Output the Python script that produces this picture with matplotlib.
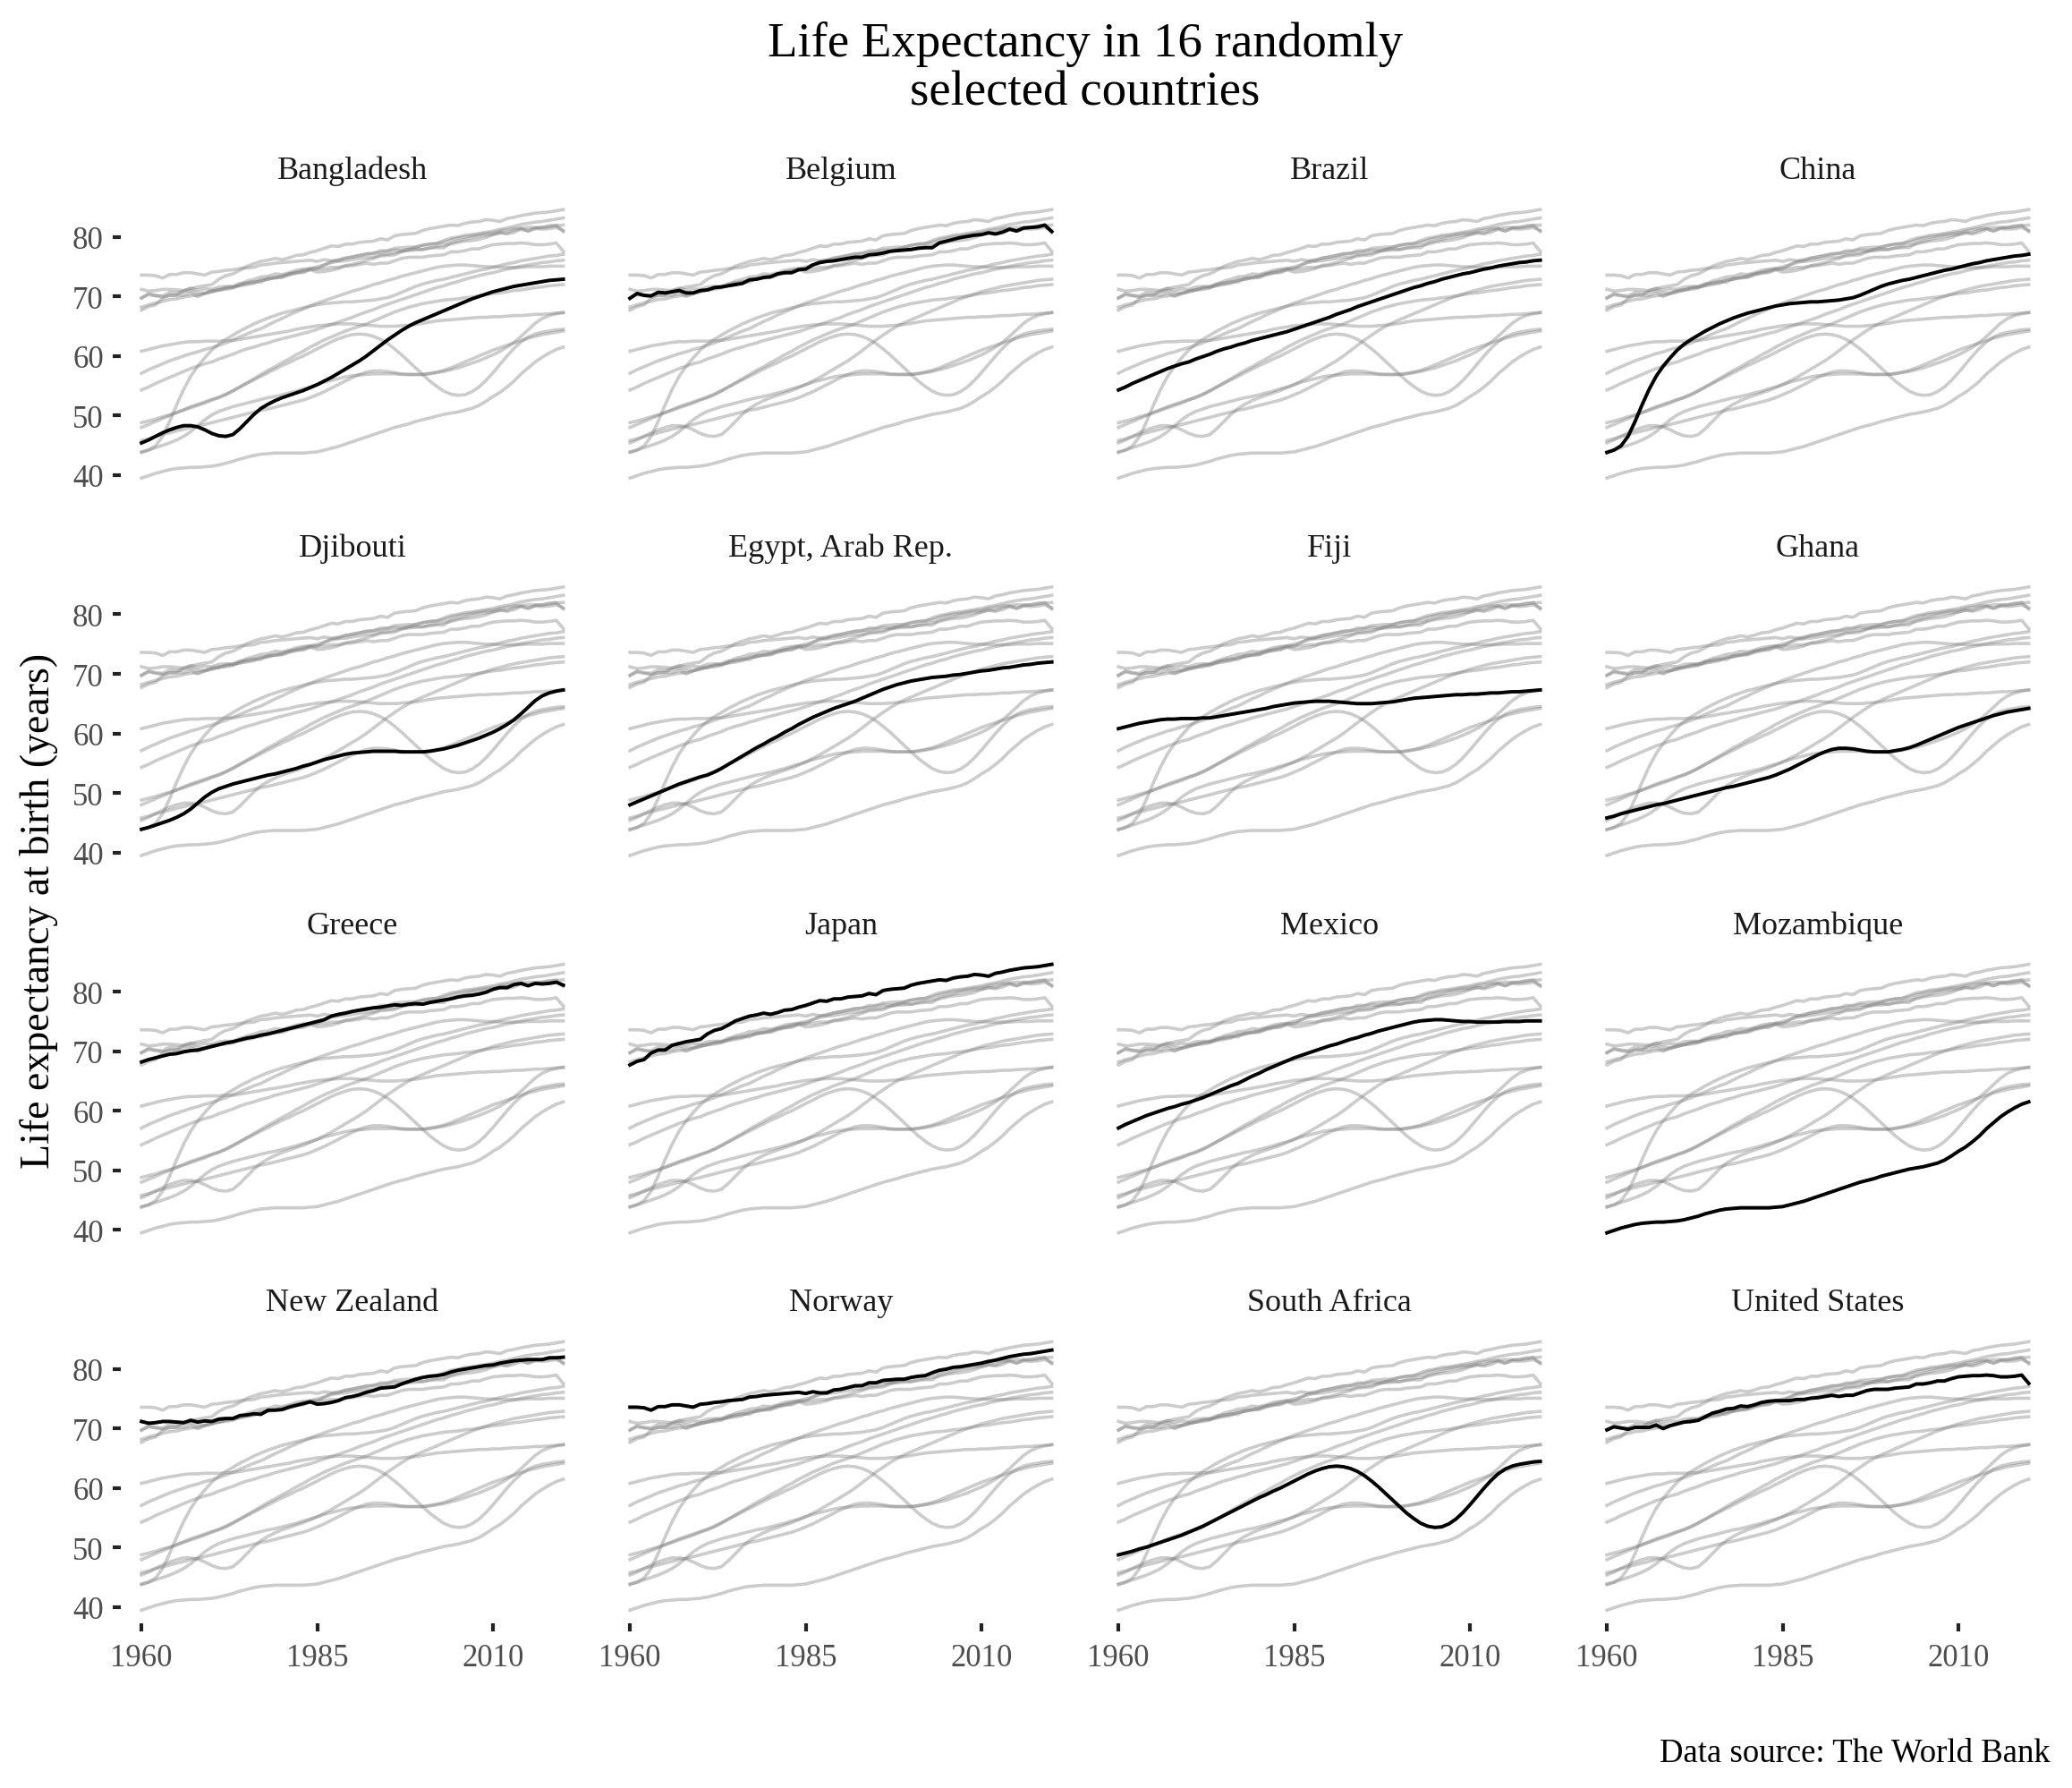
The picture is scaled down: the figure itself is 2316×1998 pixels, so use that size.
import matplotlib
matplotlib.use("Agg")
import matplotlib.pyplot as plt

plt.rcParams['font.family'] = ['Liberation Serif', 'DejaVu Serif']

years = list(range(1960, 2021))

countries = ["Bangladesh", "Belgium", "Brazil", "China",
             "Djibouti", "Egypt, Arab Rep.", "Fiji", "Ghana",
             "Greece", "Japan", "Mexico", "Mozambique",
             "New Zealand", "Norway", "South Africa", "United States"]

bangladesh = [45.4, 45.9, 46.5, 47.1, 47.6, 48.0, 48.3, 48.3, 48.1, 47.6,
              47.0, 46.6, 46.5, 46.8, 47.8, 49.0, 50.2, 51.2, 51.9, 52.5,
              53.0, 53.4, 53.8, 54.2, 54.7, 55.2, 55.8, 56.4, 57.1, 57.8,
              58.5, 59.2, 60.0, 60.9, 61.8, 62.7, 63.5, 64.3, 65.0, 65.6,
              66.1, 66.6, 67.1, 67.6, 68.1, 68.6, 69.1, 69.6, 70.0, 70.4,
              70.8, 71.1, 71.4, 71.7, 71.9, 72.1, 72.3, 72.5, 72.7, 72.8,
              72.9]
belgium = [69.7, 70.5, 70.2, 70.1, 70.7, 70.6, 70.8, 71.0, 70.6, 70.6,
           71.0, 71.1, 71.5, 71.6, 71.8, 72.0, 72.2, 72.8, 72.9, 73.2,
           73.3, 73.8, 74.0, 74.0, 74.5, 74.6, 75.3, 75.7, 75.9, 76.0,
           76.2, 76.4, 76.6, 76.6, 77.0, 77.1, 77.3, 77.6, 77.7, 77.8,
           77.9, 78.1, 78.2, 78.2, 79.0, 79.3, 79.6, 79.9, 80.1, 80.3,
           80.4, 80.7, 80.5, 80.8, 81.3, 81.0, 81.5, 81.6, 81.7, 82.0,
           80.9]
brazil = [54.3, 54.8, 55.4, 55.9, 56.4, 56.9, 57.4, 57.9, 58.3, 58.7,
          59.0, 59.5, 59.9, 60.3, 60.8, 61.2, 61.5, 61.9, 62.2, 62.6,
          62.9, 63.2, 63.5, 63.8, 64.1, 64.5, 64.9, 65.3, 65.7, 66.1,
          66.5, 67.0, 67.4, 67.8, 68.3, 68.7, 69.1, 69.5, 69.9, 70.3,
          70.7, 71.1, 71.5, 71.8, 72.2, 72.5, 72.9, 73.2, 73.5, 73.8,
          74.0, 74.3, 74.6, 74.8, 75.1, 75.3, 75.5, 75.7, 75.8, 76.0,
          76.1]
china = [43.8, 44.2, 44.9, 46.5, 49.0, 51.8, 54.4, 56.6, 58.3, 59.7,
         61.0, 62.0, 62.8, 63.5, 64.2, 64.8, 65.4, 65.9, 66.4, 66.8,
         67.2, 67.5, 67.8, 68.1, 68.4, 68.6, 68.8, 68.9, 69.0, 69.1,
         69.1, 69.2, 69.3, 69.4, 69.6, 69.8, 70.2, 70.7, 71.2, 71.7,
         72.1, 72.4, 72.7, 72.9, 73.2, 73.5, 73.8, 74.1, 74.4, 74.6,
         74.9, 75.2, 75.5, 75.7, 76.0, 76.2, 76.4, 76.6, 76.8, 76.9,
         77.1]
djibouti = [43.9, 44.2, 44.6, 45.0, 45.4, 45.9, 46.5, 47.3, 48.3, 49.3,
            50.1, 50.7, 51.1, 51.5, 51.8, 52.1, 52.4, 52.7, 53.0, 53.2,
            53.5, 53.8, 54.1, 54.5, 54.8, 55.2, 55.6, 55.9, 56.2, 56.5,
            56.7, 56.8, 56.9, 57.0, 57.0, 57.0, 57.0, 56.9, 56.9, 56.9,
            56.9, 57.0, 57.2, 57.4, 57.7, 58.0, 58.4, 58.8, 59.2, 59.7,
            60.2, 60.8, 61.5, 62.3, 63.3, 64.4, 65.5, 66.3, 66.8, 67.1,
            67.3]
egypt = [48.0, 48.5, 49.0, 49.5, 50.0, 50.5, 51.0, 51.5, 51.9, 52.3,
         52.7, 53.0, 53.5, 54.1, 54.8, 55.5, 56.2, 56.9, 57.6, 58.2,
         58.9, 59.5, 60.2, 60.8, 61.5, 62.1, 62.7, 63.2, 63.7, 64.2,
         64.6, 65.0, 65.4, 65.9, 66.4, 66.9, 67.4, 67.8, 68.2, 68.5,
         68.8, 69.0, 69.2, 69.4, 69.5, 69.6, 69.8, 69.9, 70.1, 70.3,
         70.5, 70.6, 70.8, 71.0, 71.1, 71.3, 71.5, 71.6, 71.8, 71.9,
         72.0]
fiji = [60.8, 61.1, 61.4, 61.7, 61.9, 62.1, 62.3, 62.4, 62.4, 62.5,
        62.5, 62.5, 62.6, 62.6, 62.8, 63.0, 63.2, 63.4, 63.6, 63.8,
        64.0, 64.2, 64.5, 64.7, 64.9, 65.1, 65.2, 65.3, 65.4, 65.4,
        65.4, 65.3, 65.2, 65.1, 65.0, 65.0, 65.0, 65.1, 65.2, 65.3,
        65.5, 65.7, 65.9, 66.0, 66.1, 66.2, 66.3, 66.4, 66.5, 66.5,
        66.6, 66.6, 66.7, 66.8, 66.8, 66.9, 67.0, 67.0, 67.1, 67.2,
        67.3]
ghana = [45.8, 46.1, 46.5, 46.8, 47.1, 47.4, 47.7, 48.0, 48.2, 48.5,
         48.8, 49.1, 49.4, 49.7, 50.0, 50.3, 50.6, 50.9, 51.1, 51.4,
         51.7, 52.0, 52.3, 52.6, 53.0, 53.5, 54.0, 54.6, 55.2, 55.8,
         56.4, 56.9, 57.3, 57.5, 57.5, 57.4, 57.2, 57.0, 56.9, 56.9,
         56.9, 57.1, 57.3, 57.6, 58.0, 58.5, 59.0, 59.5, 60.0, 60.5,
         61.0, 61.4, 61.8, 62.2, 62.6, 63.0, 63.3, 63.6, 63.8, 64.0,
         64.2]
greece = [68.2, 68.6, 68.9, 69.2, 69.5, 69.6, 69.9, 70.1, 70.2, 70.5,
          70.8, 71.1, 71.4, 71.6, 71.9, 72.2, 72.4, 72.7, 72.9, 73.2,
          73.5, 73.8, 74.1, 74.4, 74.7, 75.0, 75.3, 75.9, 76.2, 76.4,
          76.7, 76.9, 77.1, 77.3, 77.4, 77.6, 77.8, 77.7, 77.9, 78.0,
          77.9, 78.2, 78.4, 78.6, 78.8, 79.1, 79.3, 79.4, 79.6, 79.9,
          80.4, 80.7, 80.7, 81.2, 81.4, 81.0, 81.4, 81.3, 81.4, 81.6,
          81.1]
japan = [67.7, 68.3, 68.6, 69.7, 70.2, 70.2, 71.0, 71.3, 71.6, 71.8,
         72.0, 72.9, 73.5, 73.8, 74.4, 75.1, 75.5, 75.9, 76.1, 76.4,
         76.2, 76.5, 76.9, 77.0, 77.4, 77.7, 78.1, 78.5, 78.4, 78.8,
         78.8, 79.1, 79.2, 79.3, 79.7, 79.5, 80.2, 80.4, 80.5, 80.6,
         81.1, 81.4, 81.6, 81.8, 82.0, 81.9, 82.3, 82.5, 82.6, 82.9,
         82.8, 82.6, 83.1, 83.3, 83.6, 83.8, 84.0, 84.1, 84.2, 84.4,
         84.6]
mexico = [57.1, 57.7, 58.2, 58.7, 59.2, 59.6, 60.0, 60.4, 60.7, 61.1,
          61.4, 61.8, 62.2, 62.7, 63.2, 63.7, 64.2, 64.6, 65.2, 65.8,
          66.3, 66.9, 67.4, 67.9, 68.4, 68.9, 69.3, 69.7, 70.1, 70.5,
          70.9, 71.2, 71.6, 72.0, 72.3, 72.7, 73.0, 73.4, 73.7, 74.0,
          74.3, 74.6, 74.9, 75.1, 75.2, 75.3, 75.3, 75.2, 75.1, 75.0,
          75.0, 74.9, 74.9, 74.9, 74.9, 75.0, 75.0, 75.0, 75.1, 75.1,
          75.1]
mozambique = [39.5, 39.9, 40.3, 40.6, 40.9, 41.1, 41.2, 41.3, 41.3, 41.4,
              41.5, 41.7, 42.0, 42.3, 42.7, 43.0, 43.3, 43.5, 43.6, 43.7,
              43.7, 43.7, 43.7, 43.7, 43.8, 43.9, 44.2, 44.5, 44.8, 45.2,
              45.6, 46.0, 46.4, 46.8, 47.2, 47.6, 48.0, 48.3, 48.6, 49.0,
              49.3, 49.6, 49.9, 50.2, 50.4, 50.6, 50.9, 51.2, 51.7, 52.4,
              53.2, 53.9, 54.8, 55.8, 57.0, 58.0, 59.0, 59.8, 60.5, 61.1,
              61.5]
new_zealand = [71.2, 70.9, 71.0, 71.2, 71.2, 71.1, 71.0, 71.4, 71.1, 71.3,
               71.2, 71.6, 71.7, 71.7, 72.2, 72.3, 72.5, 72.4, 73.1, 73.1,
               73.2, 73.6, 73.9, 74.2, 74.5, 74.1, 74.2, 74.4, 74.7, 75.2,
               75.4, 75.7, 76.1, 76.4, 76.8, 76.9, 77.0, 77.5, 77.9, 78.3,
               78.6, 78.8, 78.9, 79.1, 79.5, 79.8, 80.0, 80.2, 80.4, 80.6,
               80.7, 81.0, 81.2, 81.4, 81.5, 81.6, 81.6, 81.6, 81.9, 81.9,
               82.0]
norway = [73.6, 73.6, 73.5, 73.1, 73.7, 73.7, 74.0, 74.0, 73.8, 73.6,
          74.1, 74.2, 74.4, 74.5, 74.7, 74.8, 74.9, 75.3, 75.4, 75.6,
          75.7, 75.8, 75.9, 76.0, 76.1, 75.9, 76.2, 76.0, 76.0, 76.5,
          76.6, 76.9, 77.2, 77.2, 77.7, 77.7, 78.1, 78.2, 78.3, 78.3,
          78.6, 78.8, 78.9, 79.4, 79.8, 80.0, 80.3, 80.4, 80.6, 80.8,
          81.0, 81.3, 81.5, 81.8, 82.1, 82.3, 82.5, 82.6, 82.8, 83.0,
          83.2]
south_africa = [48.8, 49.1, 49.4, 49.8, 50.1, 50.5, 50.9, 51.3, 51.7, 52.1,
                52.6, 53.1, 53.6, 54.2, 54.8, 55.4, 56.0, 56.6, 57.2, 57.8,
                58.4, 58.9, 59.5, 60.0, 60.6, 61.2, 61.8, 62.4, 62.9, 63.3,
                63.6, 63.7, 63.6, 63.3, 62.8, 62.1, 61.2, 60.2, 59.1, 58.0,
                56.9, 55.8, 54.9, 54.1, 53.6, 53.4, 53.5, 54.0, 54.8, 55.9,
                57.2, 58.6, 60.0, 61.3, 62.4, 63.2, 63.7, 64.0, 64.2, 64.4,
                64.5]
united_states = [69.8, 70.3, 70.1, 69.9, 70.2, 70.2, 70.2, 70.6, 70.0, 70.5,
                 70.8, 71.1, 71.2, 71.4, 72.0, 72.6, 72.9, 73.3, 73.4, 73.8,
                 73.7, 74.0, 74.4, 74.6, 74.7, 74.7, 74.7, 74.9, 74.9, 75.1,
                 75.2, 75.4, 75.6, 75.4, 75.6, 75.6, 76.0, 76.4, 76.6, 76.6,
                 76.6, 76.8, 76.9, 77.0, 77.5, 77.5, 77.7, 78.0, 78.0, 78.4,
                 78.7, 78.8, 78.9, 78.9, 79.0, 78.9, 78.7, 78.7, 78.8, 79.0,
                 77.6]

series = dict(zip(countries, [bangladesh, belgium, brazil, china,
                              djibouti, egypt, fiji, ghana,
                              greece, japan, mexico, mozambique,
                              new_zealand, norway, south_africa, united_states]))

x_ticks = [1960, 1985, 2010]
y_ticks = [40, 50, 60, 70, 80]

W, H = 2316, 1999
fig = plt.figure(figsize=(W / 100, H / 100), dpi=100)
fig.patch.set_facecolor('white')

left0, dx, pw = 134.6, 546.0, 518.6
top0, dy, ph = 220.2, 421.7, 330.0

all_vals = [v for s in series.values() for v in s]
ymin, ymax = min(all_vals), max(all_vals)
yr0, yr1 = min(years), max(years)
xpad = 0.05 * (yr1 - yr0)
ypad = 0.05 * (ymax - ymin)

tick_col = '#222222'
lab_col = '#4d4d4d'

for i, name in enumerate(countries):
    r, c = divmod(i, 4)
    ax = fig.add_axes([(left0 + c * dx) / W, 1 - (top0 + r * dy + ph) / H,
                       pw / W, ph / H])
    for other in countries:
        ax.plot(years, series[other], color='#808080', alpha=0.4,
                lw=2.6, zorder=1)
    ax.plot(years, series[name], color='black', lw=2.8, zorder=3)
    ax.set_xlim(yr0 - xpad, yr1 + xpad)
    ax.set_ylim(ymin - ypad, ymax + ypad)
    ax.set_xticks(x_ticks)
    ax.set_yticks(y_ticks)
    for sp in ax.spines.values():
        sp.set_visible(False)
    ax.tick_params(axis='both', length=6.5, width=3.0, color=tick_col,
                   labelcolor=lab_col, labelsize=25)
    ax.tick_params(axis='y', pad=7)
    ax.tick_params(axis='x', pad=9)
    if c != 0:
        ax.tick_params(axis='y', left=False, labelleft=False)
    if r != 3:
        ax.tick_params(axis='x', bottom=False, labelbottom=False)
    ax.text(0.5, 1 + 20 / ph, name, transform=ax.transAxes, ha='center',
            va='baseline', fontsize=26, color='#1a1a1a')

panel_left = left0
panel_right = left0 + 3 * dx + pw
cx = (panel_left + panel_right) / 2 / W
fig.text(cx, 1 - 63 / H, "Life Expectancy in 16 randomly", ha='center',
         va='baseline', fontsize=39.5, color='black')
fig.text(cx, 1 - 118 / H, "selected countries", ha='center',
         va='baseline', fontsize=39.5, color='black')
fig.text(44 / W, 1 - (top0 + (3 * dy + ph) / 2) / H,
         "Life expectancy at birth (years)", rotation=90, ha='center',
         va='center', fontsize=33, color='black')
fig.text(panel_right / W, 1 - 1969 / H, "Data source: The World Bank",
         ha='right', va='baseline', fontsize=26.5, color='black')

fig.savefig("out.png", dpi=100, facecolor='white')
